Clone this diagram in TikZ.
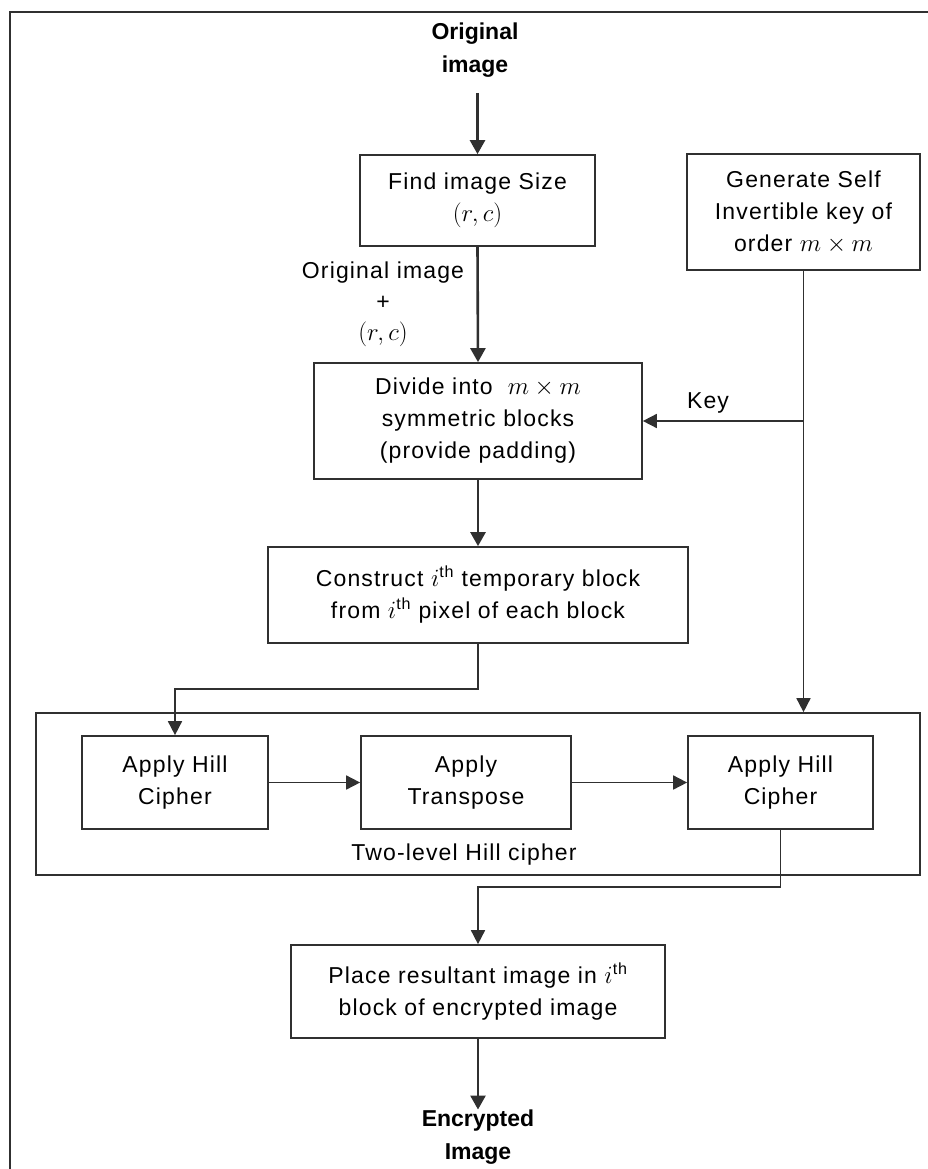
\documentclass[tikz,border=0pt]{standalone}
\usepackage{fontspec}
\setmainfont{Liberation Sans}
\newfontfamily\lsfont{Liberation Sans}[LetterSpace=5]
\usetikzlibrary{arrows.meta}
\definecolor{lc}{HTML}{303030}
\begin{document}
\begin{tikzpicture}[x=1pt,y=-1pt,
  box/.style={draw=lc, line width=1.7pt, align=center, inner sep=0pt,
    font=\lsfont\fontsize{23}{32}\selectfont},
  lbl/.style={align=center, inner sep=0pt, font=\lsfont\fontsize{23}{31}\selectfont},
  ttl/.style={align=center, inner sep=0pt, font=\bfseries\fontsize{23}{33}\selectfont},
  flow/.style={draw=lc, line width=2.6pt, -{Triangle[width=15pt,length=14pt]}},
  link/.style={draw=lc, line width=1.7pt},
  linkarrow/.style={link, -{Triangle[width=14pt,length=14pt]}}
]
\useasboundingbox (0,0) rectangle (928,1169);
% outer frame
\draw[link] (10,1169) -- (10,12) -- (928,12);

\node[ttl] (orig) at (475,50) {Original\\image};
\node[box, minimum width=235pt, minimum height=91pt] (find) at (477.5,200.5)
  {Find image Size\\$(r,c)$};
\node[lbl] (olbl) at (383,304) {Original image\\+\\$(r,c)$};
\node[box, minimum width=328pt, minimum height=116pt] (divide) at (478,421)
  {Divide into \ $m\times m$\\symmetric blocks\\(provide padding)};
\node[box, minimum width=233pt, minimum height=116pt] (gen) at (803.5,212)
  {Generate Self\\Invertible key of\\order $m\times m$};
\node[box, minimum width=420pt, minimum height=96pt] (construct) at (478,595)
  {Construct $i$\textsuperscript{th} temporary block\\from $i$\textsuperscript{th} pixel of each block};
\node[box, minimum width=884pt, minimum height=162pt] (group) at (478,794) {};
\node[box, minimum width=186pt, minimum height=93pt] (a1) at (175,782.5)
  {Apply Hill\\Cipher};
\node[box, minimum width=210pt, minimum height=93pt] (a2) at (466,782.5)
  {Apply\\Transpose};
\node[box, minimum width=185pt, minimum height=93pt] (a3) at (780.5,782.5)
  {Apply Hill\\Cipher};
\node[lbl] (glbl) at (464,855) {Two-level Hill cipher};
\node[box, minimum width=374pt, minimum height=93pt] (place) at (478,991.5)
  {Place resultant image in $i$\textsuperscript{th}\\block of encrypted image};
\node[ttl] (enc) at (478,1137) {Encrypted\\Image};

\coordinate (keyj) at (803,421);
\coordinate (c1) at (478,689);
\coordinate (c2) at (780.5,887);
\coordinate (o1) at (477.5,93);

\draw[flow] (o1) -- (find.north);
\draw[flow] (find.south) -- (divide.north);
\draw[flow] (divide.south) -- (construct.north);
\draw[linkarrow] (gen.south) -- (gen.south |- group.north);
\draw[linkarrow] (keyj) -- (divide.east);
\node[lbl] (key) at (708,403) {Key};
\draw[linkarrow] (construct.south) -- (c1) -| (a1.north);
\draw[linkarrow] (a1.east) -- (a2.west);
\draw[linkarrow] (a2.east) -- (a3.west);
\draw[linkarrow] (a3.south) -- (c2) -| (place.north);
\draw[flow] (place.south) -- (enc.north);
\end{tikzpicture}
\end{document}
